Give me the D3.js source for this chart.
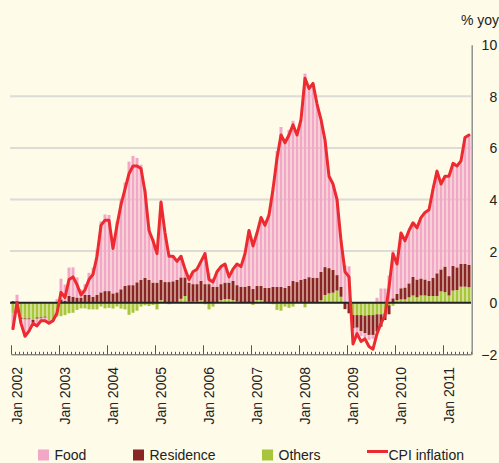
<!DOCTYPE html>
<html>
<head>
<meta charset="utf-8">
<script src="https://cdn.jsdelivr.net/npm/d3@7"></script>
<style>
  body { margin: 0; background: #fefbe8; }
  svg { display: block; font-family: "Liberation Sans", Arial, sans-serif; }
</style>
</head>
<body>
<svg id="chart" width="499" height="463"></svg>
<script>
/* ====== DATA (monthly, Jan 2002 - Jul 2011, % yoy) ====== */

var yearLabels = ["Jan 2002", "Jan 2003", "Jan 2004", "Jan 2005", "Jan 2006",
                  "Jan 2007", "Jan 2008", "Jan 2009", "Jan 2010", "Jan 2011"];
var yTicks = [-2, 0, 2, 4, 6, 8, 10];
var seriesNames = ["Food", "Residence", "Others", "CPI inflation"];

var cpi = [
  -1.0, 0.0, -0.8, -1.3, -1.1, -0.8, -0.9, -0.7, -0.7, -0.8, -0.7, -0.4,
  0.4, 0.2, 0.9, 1.0, 0.7, 0.3, 0.5, 0.9, 1.1, 1.8, 3.0, 3.2,
  3.2, 2.1, 3.0, 3.8, 4.4, 5.0, 5.3, 5.3, 5.2, 4.3, 2.8, 2.4,
  1.9, 3.9, 2.7, 1.8, 1.8, 1.6, 1.8, 1.3, 0.9, 1.2, 1.3, 1.6,
  1.9, 0.9, 0.8, 1.2, 1.4, 1.5, 1.0, 1.3, 1.5, 1.4, 1.9, 2.8,
  2.2, 2.7, 3.3, 3.0, 3.4, 4.4, 5.6, 6.5, 6.2, 6.5, 6.9, 6.5,
  7.1, 8.7, 8.3, 8.5, 7.7, 7.1, 6.3, 4.9, 4.6, 4.0, 2.4, 1.2,
  1.0, -1.6, -1.2, -1.5, -1.4, -1.7, -1.8, -1.2, -0.8, -0.5, 0.6, 1.9,
  1.5, 2.7, 2.4, 2.8, 3.1, 2.9, 3.3, 3.5, 3.6, 4.4, 5.1, 4.6,
  4.9, 4.9, 5.4, 5.3, 5.5, 6.4, 6.5
];

var food = [
  -0.65, 0.25, -0.17, -0.65, -0.45, -0.03, -0.28, -0.09, -0.12, -0.11, -0.01, 0.14,
  0.8, 0.62, 1.1, 1.14, 0.78, 0.32, 0.42, 0.86, 1.13, 1.76, 2.75, 2.97,
  2.95, 1.97, 2.75, 3.51, 4.01, 4.79, 5.01, 4.82, 4.47, 3.44, 2.05, 1.71,
  1.38, 3.02, 1.9, 1.06, 0.97, 0.72, 0.82, 0.32, 0.12, 0.48, 0.58, 0.75,
  1.24, 0.44, 0.33, 0.58, 0.68, 0.72, 0.22, 0.45, 0.82, 0.78, 1.28, 2.15,
  1.76, 2.05, 2.65, 2.43, 2.85, 3.85, 5.27, 6.2, 5.78, 6.05, 6.21, 5.7,
  6.22, 7.96, 7.31, 7.53, 6.74, 5.91, 4.92, 3.56, 3.33, 2.93, 1.78, 1.45,
  1.41, -0.3, -0.22, -0.2, -0.18, -0.19, -0.15, 0.19, 0.55, 0.55, 1.05, 1.85,
  1.4, 2.14, 1.81, 2.05, 2.1, 2.0, 2.36, 2.6, 2.76, 3.43, 3.96, 3.31,
  3.5, 3.87, 3.97, 3.93, 4.0, 4.9, 5.03
];

var residence = [
  0.06, 0.06, -0.05, -0.04, -0.04, -0.1, -0.05, -0.04, -0.04, -0.02, -0.02, 0,
  0.13, 0.08, 0.26, 0.23, 0.2, 0.2, 0.3, 0.3, 0.23, 0.3, 0.4, 0.45,
  0.45, 0.36, 0.4, 0.52, 0.65, 0.68, 0.68, 0.79, 0.88, 0.96, 0.88, 0.78,
  0.78, 0.78, 0.8, 0.8, 0.81, 0.85, 0.83, 0.72, 0.74, 0.68, 0.68, 0.75,
  0.72, 0.72, 0.62, 0.62, 0.62, 0.64, 0.64, 0.75, 0.64, 0.6, 0.6, 0.63,
  0.53, 0.55, 0.55, 0.55, 0.57, 0.61, 0.61, 0.61, 0.57, 0.65, 0.84, 0.8,
  0.88, 0.92, 0.99, 0.97, 0.94, 1.09, 1.08, 0.98, 0.88, 0.6, 0.39, -0.25,
  -0.41, -0.52, -0.49, -0.62, -0.68, -0.77, -0.77, -0.67, -0.48, -0.26, -0.35, 0.17,
  0.24, 0.43, 0.46, 0.54, 0.72, 0.69, 0.66, 0.62, 0.58, 0.71, 0.88, 0.85,
  0.99, 0.75, 0.96, 0.88, 0.88, 0.88, 0.87
];

var others = [
  -0.41, -0.41, -0.58, -0.61, -0.61, -0.67, -0.57, -0.57, -0.54, -0.67, -0.67, -0.54,
  -0.52, -0.48, -0.41, -0.39, -0.28, -0.22, -0.22, -0.26, -0.26, -0.26, -0.15, -0.22,
  -0.2, -0.23, -0.15, -0.23, -0.26, -0.47, -0.39, -0.31, -0.15, -0.1, -0.13, -0.09,
  -0.26, 0.1, 0, -0.06, 0.02, 0.03, 0.15, 0.26, 0.04, 0.04, 0.04, 0.1,
  -0.06, -0.26, -0.15, 0, 0.1, 0.14, 0.14, 0.1, 0.04, 0.02, 0.02, 0.02,
  -0.09, 0.1, 0.1, 0.02, -0.02, -0.06, -0.28, -0.31, -0.15, -0.2, -0.15, 0,
  0, -0.18, 0, 0, 0.02, 0.1, 0.3, 0.36, 0.39, 0.47, 0.23, 0,
  0, -0.48, -0.48, -0.48, -0.5, -0.48, -0.48, -0.45, -0.45, -0.41, -0.1, -0.12,
  0.1, 0.13, 0.13, 0.21, 0.28, 0.21, 0.28, 0.28, 0.26, 0.26, 0.26, 0.44,
  0.41, 0.28, 0.47, 0.49, 0.62, 0.62, 0.6
];

/* ====== SETTINGS ====== */

var svg = d3.select("#chart");
var n = cpi.length;

var PLOT_L = 11, PLOT_R = 471;
var COLORS = { food: "#f2a7c7", residence: "#8b2525", others: "#a7c63c", cpi: "#ec2a30" };

var x = d3.scaleBand()
    .domain(d3.range(n))
    .range([PLOT_L, PLOT_R])
    .paddingInner(0.25)
    .paddingOuter(0.125);

// month boundaries, used for the ticks
var xm = d3.scaleLinear().domain([0, n]).range([PLOT_L, PLOT_R]);

var y = d3.scaleLinear().domain([-2, 10]).range([354.3, 44.7]);

/* ====== GRID ====== */

svg.append("g")
    .selectAll("line")
    .data(yTicks.filter(function(d) { return d > 0 && d < 10; }))
    .enter().append("line")
    .attr("x1", 10).attr("x2", PLOT_R)
    .attr("y1", function(d) { return y(d); })
    .attr("y2", function(d) { return y(d); })
    .attr("stroke", "#dcdcd6")
    .attr("stroke-width", 2);

/* ====== BARS ====== */

var rows = cpi.map(function(v, i) {
    return { i: i, others: others[i], residence: residence[i], food: food[i] };
});

var stacked = d3.stack()
    .keys(["others", "residence", "food"])
    .offset(d3.stackOffsetDiverging)(rows);

svg.append("g")
    .selectAll("g")
    .data(stacked)
    .enter().append("g")
    .attr("fill", function(s) { return COLORS[s.key]; })
    .selectAll("rect")
    .data(function(s) { return s; })
    .enter().append("rect")
    .attr("x", function(d) { return x(d.data.i); })
    .attr("width", x.bandwidth())
    .attr("y", function(d) { return y(Math.max(d[0], d[1])); })
    .attr("height", function(d) { return Math.abs(y(d[0]) - y(d[1])); });

/* ====== ZERO LINE ====== */

svg.append("line")
    .attr("x1", 10).attr("x2", PLOT_R)
    .attr("y1", y(0)).attr("y2", y(0))
    .attr("stroke", "#222")
    .attr("stroke-width", 2);

/* ====== CPI LINE ====== */

var lineGen = d3.line()
    .x(function(d, i) { return x(i) + x.bandwidth() / 2; })
    .y(function(d) { return y(d); });

svg.append("path")
    .datum(cpi)
    .attr("d", lineGen)
    .attr("fill", "none")
    .attr("stroke", COLORS.cpi)
    .attr("stroke-width", 3)
    .attr("stroke-linejoin", "round")
    .attr("stroke-linecap", "round");

/* ====== AXES ====== */

var minorAxis = d3.axisBottom(xm)
    .tickValues(d3.range(0, n + 1))
    .tickSizeInner(-2.5)
    .tickSizeOuter(0)
    .tickFormat("");

var majorAxis = d3.axisBottom(xm)
    .tickValues(d3.range(0, n, 12))
    .tickSizeInner(-9)
    .tickSizeOuter(0)
    .tickFormat(function(d) { return yearLabels[d / 12]; });

var gMinor = svg.append("g")
    .attr("transform", "translate(0," + y(-2) + ")")
    .call(minorAxis);

var gMajor = svg.append("g")
    .attr("transform", "translate(0," + y(-2) + ")")
    .call(majorAxis);

gMajor.select(".domain").remove();
[gMinor, gMajor].forEach(function(g) {
    g.selectAll("line").attr("stroke", "#555");
    g.select(".domain").attr("stroke", "#555");
});

gMajor.selectAll("text")
    .attr("font-size", 14)
    .attr("fill", "#222")
    .attr("text-anchor", "end")
    .attr("dy", null)
    .attr("y", 0)
    .attr("transform", "translate(10, 12.7) rotate(-90)");

var yAxis = d3.axisRight(y)
    .tickValues(yTicks)
    .tickSize(0)
    .tickPadding(0)
    .tickFormat(d3.format("d"));

var gY = svg.append("g")
    .attr("transform", "translate(" + (PLOT_R + 0.7) + ",0)")
    .call(yAxis);

gY.select(".domain").attr("stroke", "#888").attr("stroke-width", 1.4);
gY.selectAll("text")
    .attr("font-size", 14)
    .attr("fill", "#222")
    .attr("text-anchor", "end")
    .attr("x", 25.5)
    .attr("dy", "0.36em");

svg.append("text")
    .attr("x", 499).attr("y", 25)
    .attr("text-anchor", "end")
    .attr("font-size", 14)
    .attr("fill", "#222")
    .text("% yoy");

/* ====== LEGEND ====== */

var legendX = [38, 133, 262, 367];
var legendKeys = ["food", "residence", "others", "cpi"];

var legend = svg.append("g")
    .selectAll("g")
    .data(seriesNames)
    .enter().append("g")
    .attr("transform", function(d, i) { return "translate(" + legendX[i] + ",455)"; });

legend.each(function(d, i) {
    var g = d3.select(this);
    if (legendKeys[i] === "cpi") {
        g.append("line")
            .attr("x1", 0).attr("x2", 21)
            .attr("y1", -3.5).attr("y2", -3.5)
            .attr("stroke", COLORS.cpi)
            .attr("stroke-width", 3);
        g.append("text").attr("x", 21.5).attr("y", 0).attr("dy", "0.36em")
            .attr("font-size", 14).attr("fill", "#222").text(d);
    } else {
        g.append("rect")
            .attr("x", 0).attr("y", -5.5)
            .attr("width", 11).attr("height", 11)
            .attr("fill", COLORS[legendKeys[i]]);
        g.append("text").attr("x", 16.5).attr("y", 0).attr("dy", "0.36em")
            .attr("font-size", 14).attr("fill", "#222").text(d);
    }
});
</script>
</body>
</html>
